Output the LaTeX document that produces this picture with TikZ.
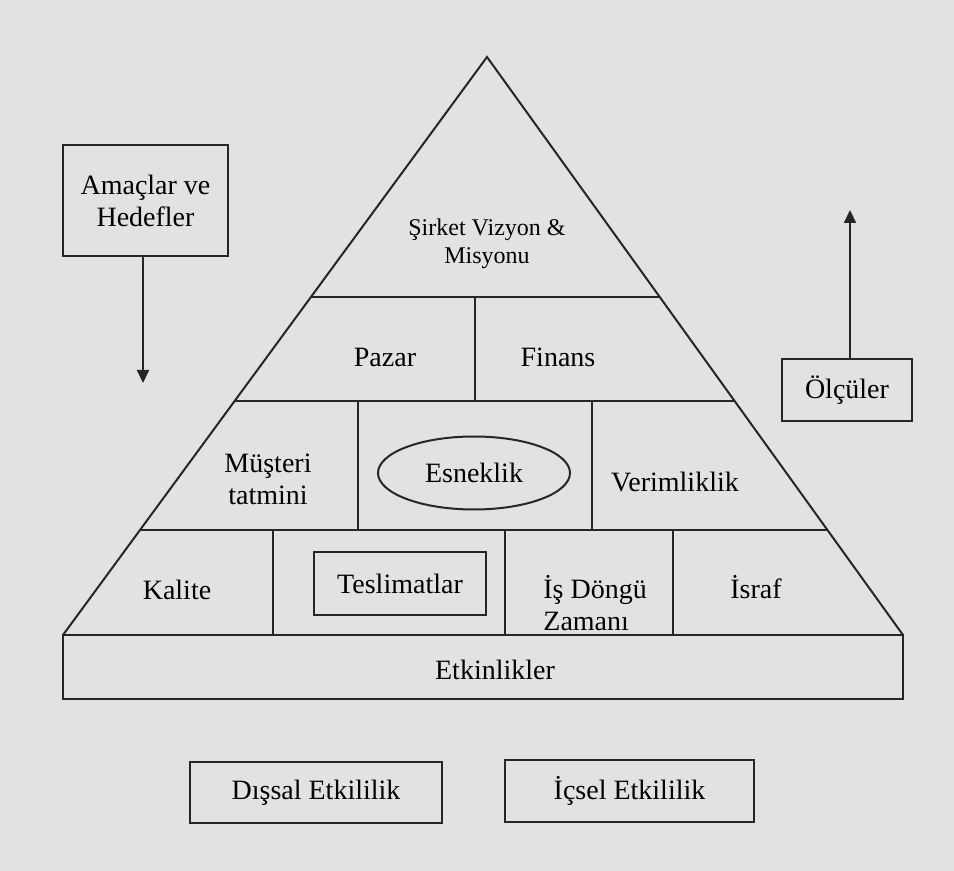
\documentclass[tikz,border=0pt]{standalone}
\usepackage{fontspec}
\setmainfont{Liberation Serif}
\usepackage{tikz}
\usetikzlibrary{arrows.meta,calc,shapes.geometric}
\definecolor{paper}{RGB}{226,226,224}

\begin{document}
\begin{tikzpicture}[
  x=0.5pt,y=-0.5pt,
  ln/.style={draw=black!85, line width=1pt},
  lbl/.style={font=\fontsize{14}{16}\selectfont, align=center, inner sep=0pt},
  box/.style={ln, lbl, rectangle},
  arr/.style={-{Triangle[length=6.5pt,width=6pt]}, ln}
]
\fill[paper] (0,0) rectangle (954,871);
\useasboundingbox (0,0) rectangle (954,871);
\coordinate (top) at (487,57); \coordinate (bl) at (63,635); \coordinate (br) at (903,635);
\draw[ln] (bl) -- (top) -- (br); \draw[ln] (bl) rectangle (903,699);
\draw[ln] ($(top)!0.4152!(bl)$) -- ($(top)!0.4152!(br)$);
\draw[ln] ($(top)!0.5952!(bl)$) -- ($(top)!0.5952!(br)$);
\draw[ln] ($(top)!0.8183!(bl)$) -- ($(top)!0.8183!(br)$);
\draw[ln] (475,297) -- (475,401);
\draw[ln] (358,401) -- (358,530); \draw[ln] (592,401) -- (592,530);
\draw[ln] (273,530) -- (273,635); \draw[ln] (505,530) -- (505,635); \draw[ln] (673,530) -- (673,635);
\node[lbl, font=\fontsize{12}{14}\selectfont] (vizyon) at (487,244) {Şirket Vizyon \&\\Misyonu};
\node[lbl] (pazar) at (385,357) {Pazar};
\node[lbl] (finans) at (558,357) {Finans};
\node[lbl] (musteri) at (268,479) {Müşteri\\tatmini};
\node[lbl, ln, ellipse, minimum width=96pt, minimum height=36.5pt] (esneklik) at (474,473) {Esneklik};
\node[lbl] (verim) at (675,482) {Verimliklik};
\node[lbl] (kalite) at (177,590) {Kalite};
\node[box, minimum width=86pt, minimum height=31.5pt] (teslim) at (400,583.5) {Teslimatlar};
\node[lbl, align=left, anchor=west] (dongu) at (543,603) {İş Döngü\\Zamanı};
\node[lbl] (israf) at (756,587) {İsraf};
\node[lbl] (etkin) at (495,670) {Etkinlikler};
\node[box, minimum width=82.5pt, minimum height=55.5pt] (amac) at (145.5,200.5) {Amaçlar ve\\Hedefler};
\coordinate (amacuc) at (143,383);
\draw[arr] (amac.south -| amacuc) -- (amacuc);
\node[box, minimum width=65pt, minimum height=31pt] (olcu) at (847,390) {Ölçüler};
\coordinate (olcuuc) at (850,210);
\draw[arr] (olcu.north -| olcuuc) -- (olcuuc);
\node[box, minimum width=126pt, minimum height=30.5pt] (dissal) at (316,792.5) {Dışsal Etkililik};
\node[box, minimum width=124.5pt, minimum height=31pt] (icsel) at (629.5,791) {İçsel Etkililik};
\end{tikzpicture}
\end{document}
